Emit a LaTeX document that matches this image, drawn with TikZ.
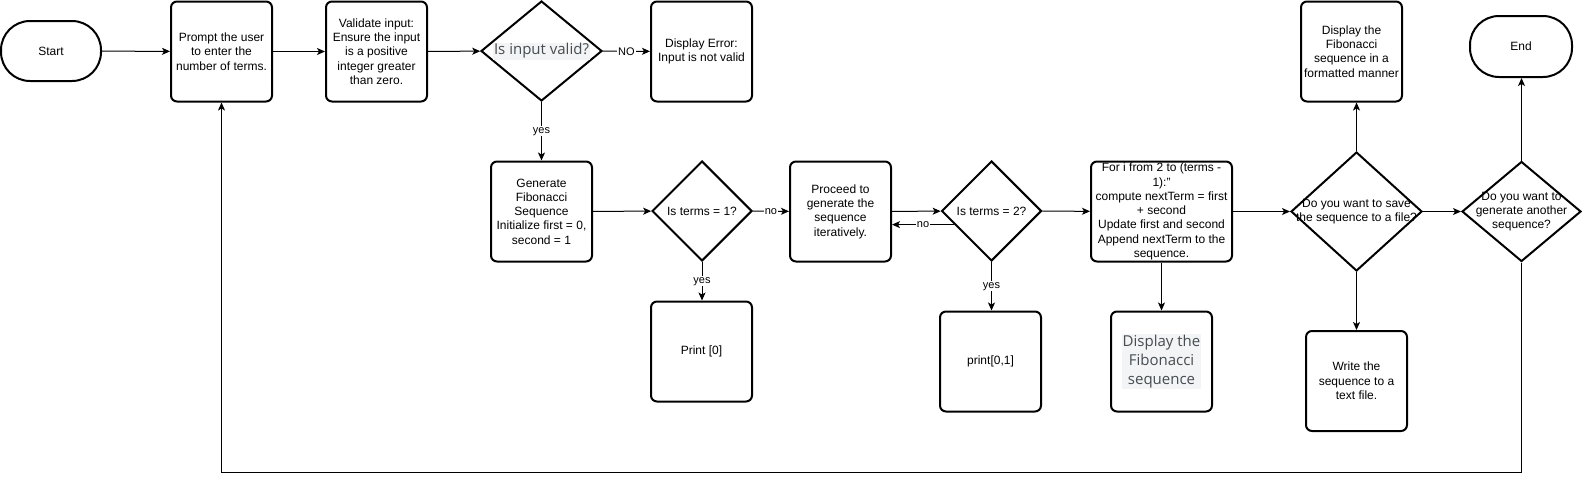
\documentclass[tikz,border=0pt]{standalone}
\usepackage{fontspec}
\setmainfont{Liberation Sans}
\newfontfamily\uifont{Open Sans}
\usetikzlibrary{shapes.geometric,arrows.meta}
\definecolor{hlgray}{HTML}{F3F4F5}
\definecolor{uigray}{HTML}{464C52}

\begin{document}
\begin{tikzpicture}[x=1pt, y=-1pt,
    every node/.style={font=\fontsize{12}{14.3}\selectfont, align=center},
    box/.style={draw, line width=2pt, rounded corners=6pt, minimum width=101pt, minimum height=100pt, inner sep=0pt},
    term/.style={draw, line width=2pt, rounded corners=29pt, minimum width=100pt, minimum height=60pt},
    decision/.style={draw, diamond, line width=2pt, inner sep=0pt},
    conn/.style={-{Stealth[length=8pt,width=7pt,inset=2pt]}, line width=1pt},
    lbl/.style={fill=white, inner sep=1pt, font=\fontsize{11}{13}\selectfont},
    hl/.style={fill=hlgray, text=uigray, inner sep=1pt, font=\uifont\fontsize{15}{19}\selectfont}]

    \useasboundingbox (0,0) rectangle (1582,480);

    %% Fibonacci flowchart

    % Input row
    \node[term] (start) at (51,51) {Start};
    \node[box] (prompt) at (221.5,51.5) {Prompt the user\\to enter the\\number of terms.};
    \node[box] (valid) at (376.5,51.5) {Validate input:\\Ensure the input\\is a positive\\integer greater\\than zero.};
    \node[decision, minimum width=121pt, minimum height=100pt, label={[hl]center:Is input valid?}] (isvalid) at (541.5,51) {};
    \node[box] (error) at (701.5,51.5) {Display Error:\\Input is not valid};

    % Generation row
    \node[box] (gen) at (541.5,211.5) {Generate\\Fibonacci\\Sequence\\Initialize first = 0,\\second = 1};
    \node[decision, minimum width=100pt, minimum height=100pt, label={center:Is terms = 1?}] (one) at (702,211) {};
    \node[box] (proceed) at (840.5,211.5) {Proceed to\\generate the\\sequence\\iteratively.};
    \node[decision, minimum width=100pt, minimum height=100pt, label={center:Is terms = 2?}] (two) at (991.5,211) {};
    \node[box, minimum width=141pt] (loop) at (1161.5,211.5) {For i from 2 to (terms -\\1):"\\compute nextTerm = first\\+ second\\Update first and second\\Append nextTerm to the\\sequence.};
    \node[decision, minimum width=131pt, minimum height=119pt, label={center:Do you want to save\\the sequence to a file?}] (save) at (1356.5,211.5) {};
    \node[decision, minimum width=119pt, minimum height=100pt, label={center:Do you want to\\generate another\\sequence?}] (again) at (1521.5,211.5) {};

    % Outputs
    \node[box] (print0) at (701.5,351.5) {Print [0]};
    \node[box] (print01) at (990.5,361.5) {print[0,1]};
    \node[box, label={[hl]center:Display the\\Fibonacci\\sequence}] (show) at (1161.5,361.5) {};
    \node[box] (format) at (1351.5,51.5) {Display the\\Fibonacci\\sequence in a\\formatted manner};
    \node[box] (write) at (1356.5,381) {Write the\\sequence to a\\text file.};
    \node[term, minimum width=102pt, minimum height=61pt] (end) at (1521,46.5) {End};

    % Connectors
    \draw[conn] (start) -- (prompt);
    \draw[conn] (prompt) -- (valid);
    \draw[conn] (valid) -- (isvalid);
    \draw[conn] (isvalid) -- node[lbl] {NO} (error);
    \draw[conn] (isvalid) -- node[lbl] {yes} (gen);
    \draw[conn] (gen) -- (one);
    \draw[conn] (one) -- node[lbl] {no} (proceed);
    \draw[conn] (one.south) -- node[lbl] {yes} (one.south |- print0.north);
    \draw[conn] (proceed) -- (two);
    \draw[conn] (two.200) -- node[lbl] {no} (two.200 -| proceed.east);
    \draw[conn] (two.south) -- node[lbl] {yes} (two.south |- print01.north);
    \draw[conn] (two) -- (loop);
    \draw[conn] (loop) -- (show);
    \draw[conn] (loop) -- (save);
    \draw[conn] (save) -- (again);
    \draw[conn] (save.north) -- (save.north |- format.south);
    \draw[conn] (save) -- (write);
    \draw[conn] (again.north) -- (again.north |- end.south);

    % Back to the start
    \draw[conn] (again.south) -- ++(0,210) -| (prompt.south);

\end{tikzpicture}
\end{document}
